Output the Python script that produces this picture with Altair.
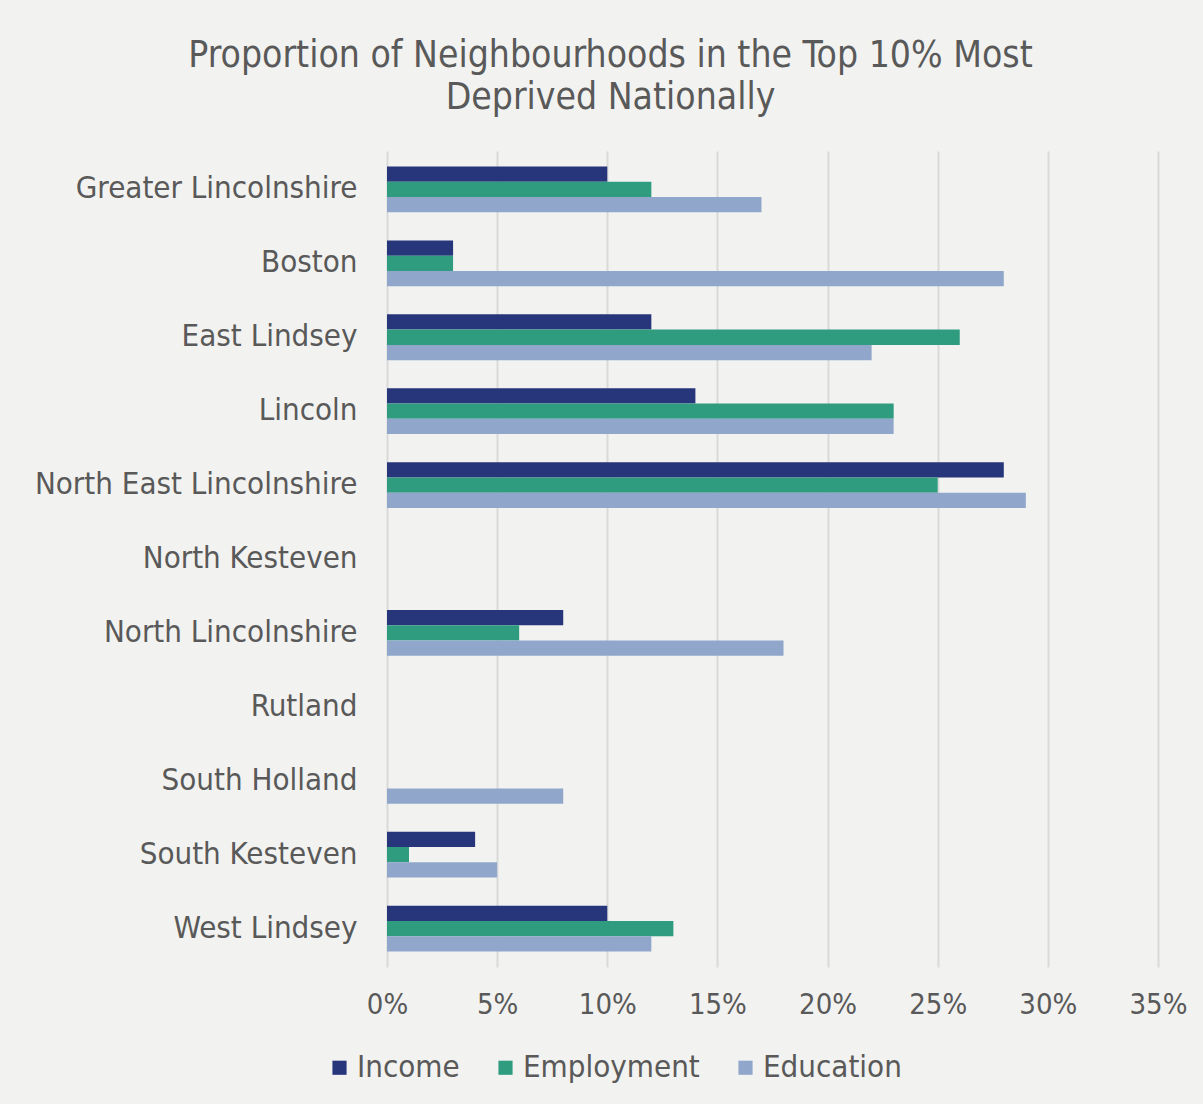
import altair as alt
import pandas as pd

areas = ["Greater Lincolnshire", "Boston", "East Lindsey", "Lincoln",
         "North East Lincolnshire", "North Kesteven", "North Lincolnshire",
         "Rutland", "South Holland", "South Kesteven", "West Lindsey"]
income = [10, 3, 12, 14, 28, 0, 8, 0, 0, 4, 10]
employment = [12, 3, 26, 23, 25, 0, 6, 0, 0, 1, 13]
education = [17, 28, 22, 23, 29, 0, 18, 0, 8, 5, 12]
series = ["Income", "Employment", "Education"]
colors = ["#27357a", "#2f9c80", "#90a7cb"]
x_ticks = [0, 0.05, 0.10, 0.15, 0.20, 0.25, 0.30, 0.35]

rows = []
for name, vals in zip(series, [income, employment, education]):
    for a, v in zip(areas, vals):
        rows.append({"Area": a, "Indicator": name, "Value": v / 100})
df = pd.DataFrame(rows)

FONT = "DejaVu Sans Condensed, Liberation Sans, sans-serif"
TXT = "#595959"

chart = alt.Chart(df).mark_bar().encode(
    y=alt.Y("Area:N", sort=areas, title=None,
            scale=alt.Scale(paddingInner=0.38, paddingOuter=0.21),
            axis=alt.Axis(domain=False, ticks=False, labelPadding=30,
                          labelFontSize=31, labelColor=TXT, labelFont=FONT,
                          labelLimit=0, grid=False)),
    yOffset=alt.YOffset("Indicator:N", sort=series,
                        scale=alt.Scale(paddingInner=0, paddingOuter=0)),
    x=alt.X("Value:Q", title=None,
            scale=alt.Scale(domain=[0, 0.35], nice=False),
            axis=alt.Axis(values=x_ticks, format=".0%", domain=False, ticks=False,
                          labelFlush=False, labelOverlap=False,
                          labelPadding=23, labelFontSize=29, labelColor=TXT,
                          labelFont=FONT, grid=True, gridColor="#d9d9d9",
                          gridWidth=2)),
    color=alt.Color("Indicator:N", sort=series,
                    scale=alt.Scale(domain=series, range=colors),
                    legend=alt.Legend(title=None, orient="none", direction="horizontal",
                                      legendX=-63, legendY=901,
                                      symbolType="square", symbolSize=200,
                                      symbolStrokeWidth=0, labelLimit=0,
                                      labelFontSize=31, labelColor=TXT, labelFont=FONT,
                                      labelOffset=2, columnPadding=30)),
).properties(
    width=771,
    height=816,
    title=alt.TitleParams(
        ["Proportion of Neighbourhoods in the Top 10% Most", "Deprived Nationally"],
        fontSize=37, font=FONT, color=TXT, fontWeight="normal",
        anchor="middle", frame="group", dx=-162, offset=34, lineHeight=42),
    autosize=alt.AutoSizeParams(type="none"),
    padding={"left": 387, "top": 151, "right": 45, "bottom": 137},
).configure(
    background="#f2f2f0",
).configure_view(
    stroke=None,
)

chart.save("out.html", embed_options={"renderer": "svg", "actions": False})
